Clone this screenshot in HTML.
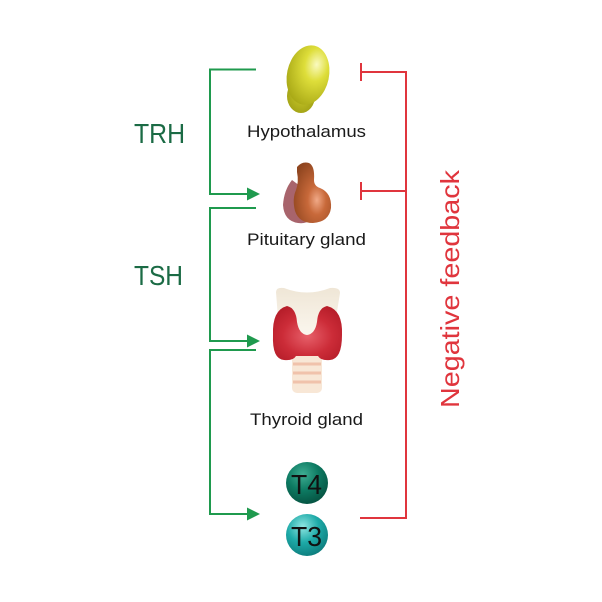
<!DOCTYPE html>
<html>
<head>
<meta charset="utf-8">
<style>
  html,body{margin:0;padding:0;background:#fff;}
  svg{display:block;}
  text{font-family:"Liberation Sans",sans-serif;}
</style>
</head>
<body>
<svg width="602" height="602" viewBox="0 0 602 602" xmlns="http://www.w3.org/2000/svg">
  <defs>
    <radialGradient id="hyp" cx="0.65" cy="0.3" r="0.8">
      <stop offset="0" stop-color="#fafac0"/>
      <stop offset="0.35" stop-color="#dede3a"/>
      <stop offset="1" stop-color="#a3a312"/>
    </radialGradient>
    <radialGradient id="hyp2" cx="0.5" cy="0.5" r="0.6">
      <stop offset="0" stop-color="#c8c828"/>
      <stop offset="1" stop-color="#9e9e14"/>
    </radialGradient>
    <radialGradient id="pit" cx="0.62" cy="0.62" r="0.7">
      <stop offset="0" stop-color="#f0a987"/>
      <stop offset="0.35" stop-color="#c8693a"/>
      <stop offset="1" stop-color="#8f451f"/>
    </radialGradient>
    <radialGradient id="thy" cx="0.5" cy="0.55" r="0.6">
      <stop offset="0" stop-color="#e7606a"/>
      <stop offset="0.6" stop-color="#cc2c38"/>
      <stop offset="1" stop-color="#b71e2a"/>
    </radialGradient>
    <linearGradient id="cream" x1="0" y1="0" x2="0" y2="1">
      <stop offset="0" stop-color="#efe6d6"/>
      <stop offset="1" stop-color="#fbf7ef"/>
    </linearGradient>
    <radialGradient id="t4" cx="0.4" cy="0.3" r="0.75">
      <stop offset="0" stop-color="#3fae93"/>
      <stop offset="0.5" stop-color="#0d7a62"/>
      <stop offset="1" stop-color="#05503f"/>
    </radialGradient>
    <radialGradient id="t3" cx="0.4" cy="0.3" r="0.75">
      <stop offset="0" stop-color="#8fe6e2"/>
      <stop offset="0.5" stop-color="#1eaaa8"/>
      <stop offset="1" stop-color="#0c7a7a"/>
    </radialGradient>
  </defs>

  <!-- Green brackets -->
  <g fill="none" stroke="#1f9a4e" stroke-width="2">
    <path d="M256,69.5 H210 V194 H249"/>
    <path d="M256,208 H210 V341 H249"/>
    <path d="M256,350 H210 V514 H249"/>
  </g>
  <g fill="#1f9a4e">
    <polygon points="247,187.5 260,194 247,200.5"/>
    <polygon points="247,334.5 260,341 247,347.5"/>
    <polygon points="247,507.5 260,514 247,520.5"/>
  </g>

  <!-- Red feedback -->
  <g fill="none" stroke="#e0353d" stroke-width="2">
    <path d="M361,72 H406 V518 H360"/>
    <path d="M361,191 H406"/>
    <path d="M361,63 V81"/>
    <path d="M361,182 V200"/>
  </g>

  <!-- Labels left -->
  <text x="134" y="143" font-size="28" fill="#1b6b45" textLength="51" lengthAdjust="spacingAndGlyphs">TRH</text>
  <text x="134" y="285" font-size="28" fill="#1b6b45" textLength="49" lengthAdjust="spacingAndGlyphs">TSH</text>

  <!-- Negative feedback -->
  <text transform="translate(459,289) rotate(-90)" text-anchor="middle" font-size="26" fill="#e0353d" textLength="238" lengthAdjust="spacingAndGlyphs">Negative feedback</text>

  <!-- Hypothalamus -->
  <ellipse cx="301" cy="96" rx="14" ry="17" fill="url(#hyp2)"/>
  <ellipse cx="308" cy="75" rx="21" ry="30" transform="rotate(12 308 75)" fill="url(#hyp)"/>
  <text x="306.5" y="137" font-size="17" fill="#1a1a1a" text-anchor="middle" textLength="119" lengthAdjust="spacingAndGlyphs">Hypothalamus</text>

  <!-- Pituitary -->
  <path d="M292,180 Q284,190 283,205 Q284,221 298,223 Q306,224 310,220 L300,186 Z" fill="#a8646c"/>
  <path d="M297,167 Q302,161 309,163 Q315,166 314,180 Q314,186 320,188 Q332,193 331,208 Q329,222 313,223 Q299,223 295,211 Q292,199 296,190 Q299,182 297,172 Z" fill="url(#pit)"/>
  <text x="306.5" y="245" font-size="17" fill="#1a1a1a" text-anchor="middle" textLength="119" lengthAdjust="spacingAndGlyphs">Pituitary gland</text>

  <!-- Thyroid -->
  <path d="M276,292 Q276,287 284,288 Q307,297 330,288 Q340,287 340,293 L336,318 Q330,336 307,337 Q284,336 278,318 Z" fill="url(#cream)"/>
  <rect x="292" y="354" width="30" height="39" rx="5" fill="#f8e7d6"/>
  <g stroke="#f0c2ab" stroke-width="3">
    <line x1="293" y1="364" x2="321" y2="364"/>
    <line x1="293" y1="373" x2="321" y2="373"/>
    <line x1="293" y1="382" x2="321" y2="382"/>
  </g>
  <path d="M287,306 Q296,308 297,322 Q299,334 307,335 Q315,334 317,322 Q318,308 327,306 Q343,310 342,335 Q342,359 330,360 Q321,361 318,356 L296,356 Q293,361 284,360 Q272,359 273,335 Q272,310 287,306 Z" fill="url(#thy)"/>
  <text x="306.5" y="425" font-size="17" fill="#1a1a1a" text-anchor="middle" textLength="113" lengthAdjust="spacingAndGlyphs">Thyroid gland</text>

  <!-- T4 / T3 -->
  <circle cx="307" cy="483" r="21" fill="url(#t4)"/>
  <text x="306.5" y="494" font-size="28" fill="#111" text-anchor="middle" textLength="31" lengthAdjust="spacingAndGlyphs">T4</text>
  <circle cx="307" cy="535" r="21" fill="url(#t3)"/>
  <text x="306.5" y="546" font-size="28" fill="#111" text-anchor="middle" textLength="31" lengthAdjust="spacingAndGlyphs">T3</text>
</svg>
</body>
</html>
